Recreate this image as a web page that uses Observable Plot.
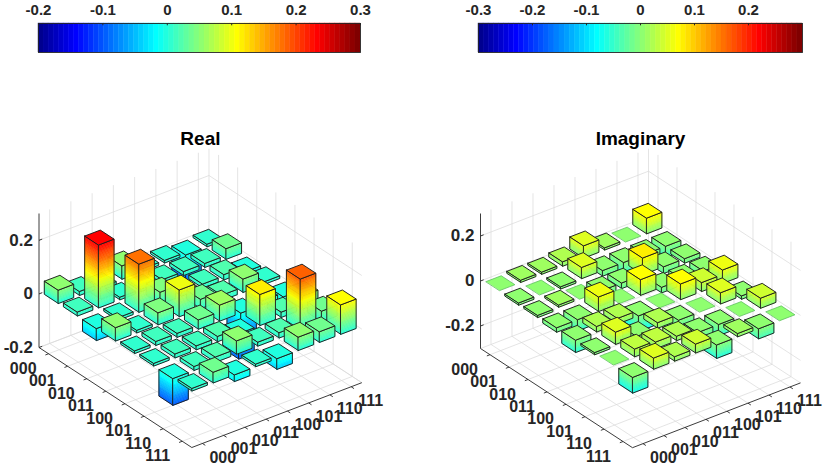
<!DOCTYPE html>
<html><head><meta charset="utf-8">
<script src="https://cdn.jsdelivr.net/npm/d3@7"></script>
<script src="https://cdn.jsdelivr.net/npm/@observablehq/plot@0.6"></script>
<style>
html,body{margin:0;padding:0;background:#fff;}
#root{position:relative;width:830px;height:470px;overflow:hidden;}
#root svg{position:absolute;}
</style></head><body><div id="root"></div>
<script>
// ---- data ----
const basis = ["000","001","010","011","100","101","110","111"];
const realPart = [
 [0.05, 0.015, -0.045, 0.05, 0.01, 0.01, -0.1, 0.01],
 [0.015, 0.235, 0.01, 0.01, 0.015, 0.015, 0.015, 0.04],
 [-0.045, 0.01, 0.18, 0.045, 0.015, 0.015, 0.02, -0.025],
 [0.05, 0.01, 0.045, 0.1, 0.035, 0.02, 0.05, 0.01],
 [0.01, 0.015, 0.015, 0.035, 0.06, -0.095, 0.015, -0.04],
 [0.01, 0.015, 0.015, 0.02, -0.095, 0.116, 0.02, 0.05],
 [-0.1, 0.015, 0.02, 0.05, 0.015, 0.02, 0.19, 0.04],
 [0.01, 0.04, -0.025, 0.01, -0.04, 0.05, 0.04, 0.11]
];
const imagPart = [
 [0, 0.01, 0.01, 0.02, 0.055, 0.01, 0, 0.07],
 [-0.01, 0, -0.01, 0.05, -0.025, -0.055, -0.035, -0.05],
 [-0.01, 0.01, 0, -0.065, -0.025, 0.075, -0.03, -0.02],
 [-0.02, -0.05, 0.065, 0, 0.07, -0.025, -0.02, -0.04],
 [-0.055, 0.025, 0.025, -0.07, 0, 0.07, 0.04, 0.06],
 [-0.01, 0.055, -0.075, 0.025, -0.07, 0, 0.05, -0.015],
 [0, 0.035, 0.03, 0.02, -0.04, -0.05, 0, 0.045],
 [-0.07, 0.05, 0.02, 0.04, -0.06, 0.015, -0.045, 0]
];
const realZTicks = [-0.2, 0, 0.2];
const imagZTicks = [-0.2, 0, 0.2];
const realColorTicks = [-0.2, -0.1, 0, 0.1, 0.2, 0.3];
const imagColorTicks = [-0.3, -0.2, -0.1, 0, 0.1, 0.2];
const realLimits = [-0.2, 0.3];
const imagLimits = [-0.3, 0.3];

// ---- helpers ----
const FONT = "'Liberation Sans', Arial, Helvetica, sans-serif";
const fmt = d => d === 0 ? "0" : String(d);

function jetColors(m) {
  const n = Math.ceil(m / 4);
  const u = [];
  for (let i = 1; i <= n; i++) u.push(i / n);
  for (let i = 1; i <= n - 1; i++) u.push(1);
  for (let i = n; i >= 1; i--) u.push(i / n);
  const g0 = Math.ceil(n / 2) - (m % 4 === 1 ? 1 : 0);
  let g = u.map((_, k) => g0 + k + 1);
  let r = g.map(v => v + n).filter(v => v <= m);
  let b = g.map(v => v - n).filter(v => v >= 1);
  g = g.filter(v => v <= m);
  const J = Array.from({length: m}, () => [0, 0, 0]);
  r.forEach((ri, k) => J[ri - 1][0] = u[k]);
  g.forEach((gi, k) => J[gi - 1][1] = u[k]);
  b.forEach((bi, k) => J[bi - 1][2] = u[u.length - b.length + k]);
  return J.map(([R, G, B]) => d3.rgb(R * 255, G * 255, B * 255).formatHex());
}
const JET = jetColors(64);
function colorOf(g, v) {
  let i = Math.floor((v - g.cmin) / (g.cmax - g.cmin) * 64);
  i = Math.max(0, Math.min(63, i));
  return JET[i];
}

// 3D view geometry (MATLAB-like orthographic view), page pixel units
const realGeom = {L: [38.5, 347], rd: [19.1, 12.5], cd: [21.25, -8.1], zs: 268,
  zmin: realLimits[0], zmax: realLimits[1], cmin: realLimits[0], cmax: realLimits[1]};
const imagGeom = {L: [480, 348], rd: [19, 12.4], cd: [21, -8.1], zs: 225,
  zmin: imagLimits[0], zmax: imagLimits[1], cmin: imagLimits[0], cmax: imagLimits[1]};

function proj(g, r, c, z) {
  return [g.L[0] + (r - 0.5) * g.rd[0] + (c - 0.5) * g.cd[0],
          g.L[1] + (r - 0.5) * g.rd[1] + (c - 0.5) * g.cd[1] - (z - g.zmin) * g.zs];
}

function panel(g, M, zTicks, title, x0) {
  const n = basis.length;
  const lo = 0.5, hi = n + 0.5;
  const idx = d3.range(1, n + 1);
  const grid = [], axes = [];
  const seg = (arr, a, b) => arr.push({x1: a[0], y1: a[1], x2: b[0], y2: b[1]});
  for (const k of idx) {
    seg(grid, proj(g, k, lo, g.zmin), proj(g, k, hi, g.zmin));
    seg(grid, proj(g, lo, k, g.zmin), proj(g, hi, k, g.zmin));
    seg(grid, proj(g, lo, k, g.zmin), proj(g, lo, k, g.zmax));
    seg(grid, proj(g, k, hi, g.zmin), proj(g, k, hi, g.zmax));
  }
  seg(grid, proj(g, lo, lo, g.zmin), proj(g, lo, hi, g.zmin));
  seg(grid, proj(g, lo, hi, g.zmin), proj(g, hi, hi, g.zmin));
  seg(grid, proj(g, lo, hi, g.zmin), proj(g, lo, hi, g.zmax));
  for (const z of zTicks) {
    seg(grid, proj(g, lo, lo, z), proj(g, lo, hi, z));
    seg(grid, proj(g, lo, hi, z), proj(g, hi, hi, z));
  }
  seg(axes, proj(g, lo, lo, g.zmin), proj(g, lo, lo, g.zmax));
  seg(axes, proj(g, lo, lo, g.zmin), proj(g, hi, lo, g.zmin));
  seg(axes, proj(g, hi, lo, g.zmin), proj(g, hi, hi, g.zmin));
  for (const z of zTicks) seg(axes, proj(g, lo, lo, z), proj(g, lo, lo + 0.15, z));
  for (const k of idx) {
    seg(axes, proj(g, k, lo, g.zmin), proj(g, k, lo - 0.15, g.zmin));
    seg(axes, proj(g, hi, k, g.zmin), proj(g, hi + 0.15, k, g.zmin));
  }
  const rowLabels = basis.map((s, i) => { const p = proj(g, i + 1, lo, g.zmin); return {x: p[0], y: p[1], s}; });
  const colLabels = basis.map((s, i) => { const p = proj(g, hi, i + 1, g.zmin); return {x: p[0], y: p[1], s}; });
  const zLabels = zTicks.map(z => { const p = proj(g, lo, lo, z); return {x: p[0], y: p[1], s: fmt(z)}; });
  const tp0 = proj(g, lo, lo, g.zmin), tp1 = proj(g, hi, hi, g.zmin);
  const titleX = (tp0[0] + tp1[0]) / 2;

  // bars, back to front
  const cells = [];
  for (let r = 1; r <= n; r++) for (let c = 1; c <= n; c++) cells.push({r, c, v: M[r - 1][c - 1]});
  cells.sort((a, b) => (g.cd[0] * a.r - g.rd[0] * a.c) - (g.cd[0] * b.r - g.rd[0] * b.c));
  const pts = [];
  let pid = 0;
  const poly = (corners, fill, stroke, sw) => { const id = pid++; for (const [x, y] of corners) pts.push({id, x, y, fill, stroke, sw}); };
  const h = 0.36, EDGE = "#1e1e1e";
  for (const {r, c, v} of cells) {
    const P = (rr, cc, z) => proj(g, rr, cc, z);
    if (Math.abs(v) < 1e-9) {
      const col = colorOf(g, 0);
      poly([P(r - h, c - h, 0), P(r - h, c + h, 0), P(r + h, c + h, 0), P(r + h, c - h, 0)], col, "#5fbf5f", 0.8);
      continue;
    }
    const zlo = Math.min(0, v), zhi = Math.max(0, v);
    const ns = Math.max(1, Math.ceil((zhi - zlo) * g.zs / 1.2));
    const face = (a, b) => {
      for (let k = 0; k < ns; k++) {
        const z0 = zlo + (zhi - zlo) * k / ns, z1 = zlo + (zhi - zlo) * (k + 1) / ns;
        const col = colorOf(g, (z0 + z1) / 2);
        poly([P(a[0], a[1], z0), P(b[0], b[1], z0), P(b[0], b[1], z1), P(a[0], a[1], z1)], col, col, 0.6);
      }
      poly([P(a[0], a[1], zlo), P(b[0], b[1], zlo), P(b[0], b[1], zhi), P(a[0], a[1], zhi)], "none", EDGE, 0.95);
    };
    face([r - h, c - h], [r + h, c - h]);
    face([r + h, c - h], [r + h, c + h]);
    poly([P(r - h, c - h, zhi), P(r - h, c + h, zhi), P(r + h, c + h, zhi), P(r + h, c - h, zhi)],
      colorOf(g, zhi), EDGE, 0.95);
  }

  return Plot.plot({
    width: 415, height: 410, margin: 0,
    x: {domain: [x0, x0 + 415], range: [0, 415], axis: null},
    y: {domain: [60, 470], range: [0, 410], axis: null},
    color: {type: "identity"},
    style: {fontFamily: FONT, background: "transparent"},
    marks: [
      Plot.link(grid, {x1: "x1", y1: "y1", x2: "x2", y2: "y2", stroke: "#d9d9d9", strokeWidth: 0.7}),
      Plot.link(axes, {x1: "x1", y1: "y1", x2: "x2", y2: "y2", stroke: "#262626", strokeWidth: 0.9}),
      Plot.text(zLabels, {x: "x", y: "y", text: "s", textAnchor: "end", dx: -6, fontSize: 17, fontWeight: "bold", fill: "#262626", fontFamily: FONT}),
      Plot.text(rowLabels, {x: "x", y: "y", text: "s", textAnchor: "end", dx: -12, dy: 15, fontSize: 16, fontWeight: "bold", fill: "#262626", fontFamily: FONT}),
      Plot.text(colLabels, {x: "x", y: "y", text: "s", textAnchor: "start", dx: 7, dy: 14, fontSize: 16, fontWeight: "bold", fill: "#262626", fontFamily: FONT}),
      Plot.line(pts, {x: "x", y: "y", z: "id", fill: "fill", stroke: "stroke", strokeWidth: "sw", curve: "linear-closed", strokeLinejoin: "round"}),
      Plot.text([title], {x: () => titleX, y: () => 144, text: d => d, lineAnchor: "bottom", fontSize: 19, fontWeight: "bold", fill: "#000", fontFamily: FONT})
    ]
  });
}

function colorbar(limits, ticks, mLeft, mRight) {
  const levels = d3.range(64).map(i => ({
    x1: limits[0] + (limits[1] - limits[0]) * i / 64,
    x2: limits[0] + (limits[1] - limits[0]) * (i + 1) / 64,
    fill: JET[i]
  }));
  return Plot.plot({
    width: 415, height: 60, marginTop: 23, marginBottom: 8, marginLeft: mLeft, marginRight: mRight,
    x: {domain: limits, axis: null},
    y: {domain: [0, 1], axis: null},
    color: {type: "identity"},
    style: {fontFamily: FONT, background: "transparent"},
    marks: [
      Plot.rect(levels, {x1: "x1", x2: "x2", y1: 0, y2: 1, fill: "fill", stroke: "fill", strokeWidth: 0.4}),
      Plot.ruleX(ticks, {x: d => d, y1: 1, y2: 0.92, stroke: "#262626", strokeWidth: 1}),
      Plot.frame({stroke: "#262626", strokeWidth: 0.9}),
      Plot.text(ticks, {x: d => d, frameAnchor: "top", text: fmt, dy: -9, lineAnchor: "bottom", fontSize: 15, fontWeight: "bold", fill: "#262626", fontFamily: FONT})
    ]
  });
}

const root = document.getElementById("root");
function place(svg, left, top) { svg.style.left = left + "px"; svg.style.top = top + "px"; root.appendChild(svg); }
place(colorbar(realLimits, realColorTicks, 38, 55), 0, 0);
place(colorbar(imagLimits, imagColorTicks, 63, 28), 415, 0);
place(panel(realGeom, realPart, realZTicks, "Real", 0), 0, 60);
place(panel(imagGeom, imagPart, imagZTicks, "Imaginary", 415), 415, 60);
</script></body></html>
